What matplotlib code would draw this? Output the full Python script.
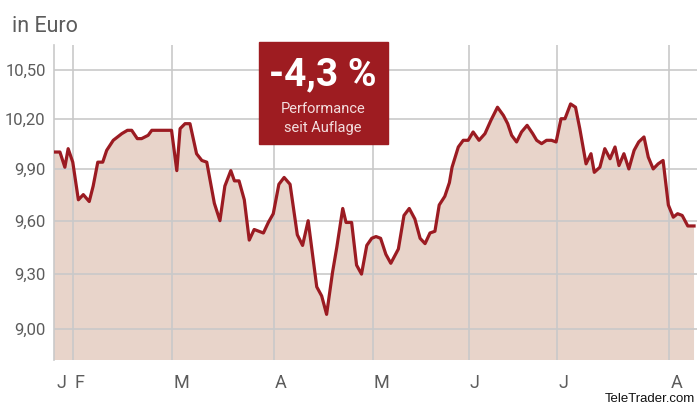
import matplotlib.pyplot as plt
import matplotlib.ticker as mticker
from matplotlib.patches import Rectangle

# days since chart start (late January) and prices in Euro
days = [0.0, 1.8, 3.3, 4.3, 5.7, 7.4, 8.9, 10.7, 11.9, 13.3, 14.8, 16.0, 18.0,
        20.6, 22.3, 23.6, 25.3, 26.6, 28.6, 29.7, 35.7, 37.3, 38.3, 39.8, 41.3,
        43.3, 44.9, 46.4, 48.7, 50.4, 51.9, 53.7, 54.8, 56.2, 57.8, 59.3, 60.8,
        63.6, 65.1, 66.6, 68.3, 69.9, 71.7, 73.9, 75.5, 77.2, 79.8, 81.3, 82.8,
        84.6, 85.9, 87.7, 88.7, 90.4, 91.9, 93.4, 95.0, 96.5, 97.8, 99.2, 100.8,
        102.3, 104.6, 106.3, 107.9, 109.6, 111.2, 112.7, 114.2, 115.7, 117.0,
        118.7, 120.1, 120.9, 122.8, 124.3, 125.8, 127.3, 129.1, 130.9, 132.7,
        134.7, 136.5, 137.8, 139.0, 140.5, 142.0, 143.7, 145.4, 146.6, 148.1,
        149.6, 151.1, 152.5, 154.0, 155.2, 156.9, 158.4, 159.7, 161.6, 163.1,
        164.1, 165.8, 167.3, 168.9, 170.4, 171.6, 173.1, 174.6, 176.2, 177.6,
        179.2, 180.5, 182.0, 183.5, 185.0, 186.6, 188.1, 189.4, 190.8, 192.5,
        194.4]
prices = [10.00, 10.00, 9.91, 10.02, 9.94, 9.72, 9.75, 9.71, 9.80, 9.94, 9.94,
          10.01, 10.07, 10.11, 10.13, 10.13, 10.08, 10.08, 10.10, 10.13, 10.13,
          9.89, 10.14, 10.17, 10.17, 9.99, 9.95, 9.94, 9.70, 9.60, 9.80, 9.89,
          9.83, 9.83, 9.72, 9.49, 9.55, 9.53, 9.59, 9.64, 9.81, 9.85, 9.81,
          9.52, 9.46, 9.60, 9.23, 9.18, 9.08, 9.31, 9.45, 9.67, 9.59, 9.59,
          9.35, 9.30, 9.46, 9.50, 9.51, 9.50, 9.41, 9.36, 9.44, 9.63, 9.67,
          9.61, 9.50, 9.47, 9.53, 9.54, 9.69, 9.74, 9.82, 9.91, 10.03, 10.07,
          10.07, 10.12, 10.07, 10.11, 10.19, 10.27, 10.22, 10.17, 10.10, 10.06,
          10.12, 10.16, 10.11, 10.07, 10.05, 10.07, 10.07, 10.06, 10.20, 10.20,
          10.29, 10.27, 10.14, 9.93, 9.99, 9.88, 9.91, 10.02, 9.96, 10.03, 9.92,
          9.99, 9.90, 10.01, 10.06, 10.09, 9.97, 9.90, 9.93, 9.95, 9.69, 9.62,
          9.64, 9.63, 9.57, 9.57]

month_days = [5.9, 35.9, 66.8, 96.8, 126.0, 152.8, 186.9]
month_labels = ['J', 'F', 'M', 'A', 'M', 'J', 'J', 'A']
label_days = [0.4] + month_days
y_ticks = [9.00, 9.30, 9.60, 9.90, 10.20, 10.50]

line_col = '#9b1b22'
fill_col = '#e8d4ca'
grid_col = '#c9c9c9'
text_col = '#5c5c5c'
font = 'Roboto'

fig = plt.figure(figsize=(6.97, 4.05), dpi=100)
ax = fig.add_axes([54 / 697, 1 - 360 / 405, 643 / 697, 315 / 405])

ax.set_yscale('log')
ax.set_xlim(0, 195.3)
ax.set_ylim(8.837, 10.657)

ax.fill_between(days, prices, 1, color=fill_col, lw=0, zorder=1)
ax.plot(days, prices, color=line_col, lw=2.3, zorder=3)

for d in month_days:
    ax.axvline(d, color=grid_col, lw=1.2, zorder=2)
for v in y_ticks:
    ax.axhline(v, color=grid_col, lw=1.2, zorder=2)

ax.yaxis.set_major_locator(mticker.FixedLocator(y_ticks))
ax.yaxis.set_minor_locator(mticker.NullLocator())
ax.yaxis.set_major_formatter(mticker.FuncFormatter(lambda v, p: f'{v:.2f}'.replace('.', ',')))
ax.tick_params(axis='y', length=0, pad=6, labelsize=12, labelcolor=text_col)
for t in ax.get_yticklabels():
    t.set_family(font)
ax.set_xticks([])

for s in ['top', 'right', 'bottom']:
    ax.spines[s].set_visible(False)
ax.spines['left'].set_color(grid_col)
ax.spines['left'].set_linewidth(1.2)

for d, lab in zip(label_days, month_labels):
    ax.text(d + 0.3, -28 / 315, lab, transform=ax.get_xaxis_transform(), ha='left',
            va='baseline', fontsize=13, color=text_col, family=font)

fig.text(12 / 697, 1 - 31.5 / 405, 'in Euro', ha='left', va='baseline', fontsize=15.5,
         color=text_col, family=font)

# performance box
fig.patches.append(Rectangle((259 / 697, 1 - 143.5 / 405), 129 / 697, 102 / 405,
                             transform=fig.transFigure, color='#9e1c21', zorder=5))
fig.text(323 / 697, 1 - 85 / 405, '-4,3 %', ha='center', va='baseline', fontsize=28,
         fontweight='bold', color='white', family=font, zorder=6)
fig.text(323 / 697, 1 - 113.3 / 405, 'Performance', ha='center', va='baseline', fontsize=10.5,
         color='#f3dede', family=font, zorder=6)
fig.text(323 / 697, 1 - 131.7 / 405, 'seit Auflage', ha='center', va='baseline', fontsize=10.5,
         color='#f3dede', family=font, zorder=6)

fig.text(695 / 697, 1 - 402.5 / 405, 'TeleTrader.com', ha='right', va='baseline', fontsize=9.5,
         color='#111111', family='Liberation Sans')

fig.savefig('out.png', dpi=100)
